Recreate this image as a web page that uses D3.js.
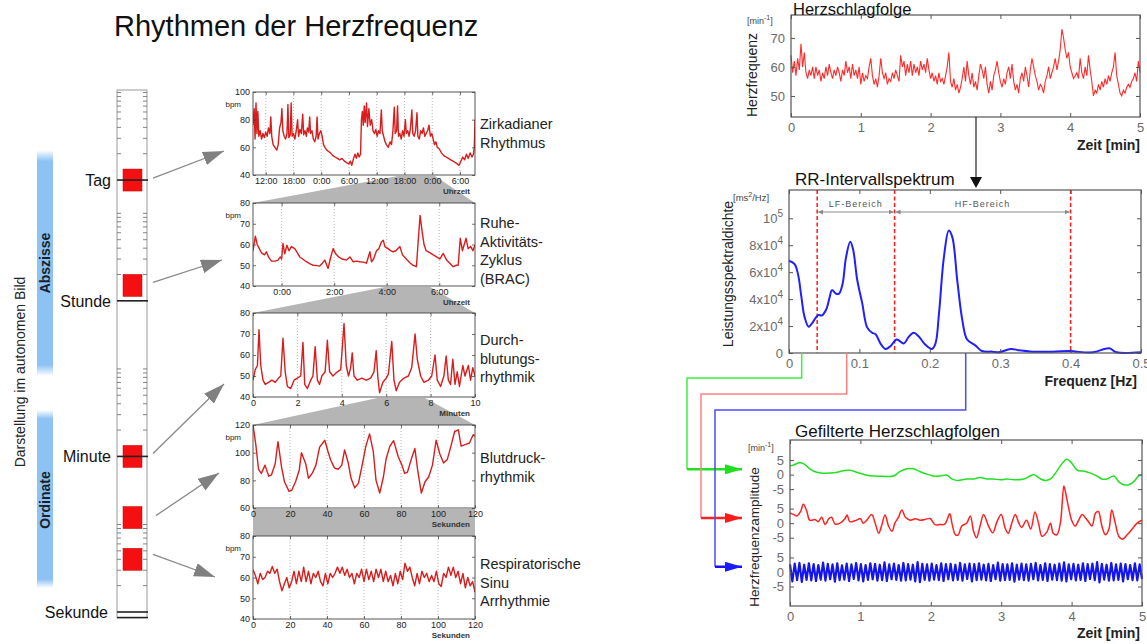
<!DOCTYPE html>
<html>
<head>
<meta charset="utf-8">
<script src="https://cdn.jsdelivr.net/npm/d3@7"></script>
<style>
  body { margin: 0; background: #fff; }
  svg text { font-family: "Liberation Sans", Arial, Helvetica, sans-serif; }
</style>
</head>
<body>
<svg id="chart" width="1147" height="644"></svg>
<script>
// ---------- data ----------
// log time bar on the left
const unitNames = ["Sekunde", "Minute", "Stunde", "Tag"];
const unitSeconds = [1, 60, 3600, 86400];
const rhythmPeriods = [86400, 5400, 60, 12, 4]; // s, one red square per panel
const sideLabels = ["Abszisse", "Ordinate"];

// panel 1: circadian rhythm [hour of day (continuous), bpm]
const circadian = [[9.25,76],[9.5,88],[9.7,66],[9.9,92],[10.1,70],[10.3,86],[10.5,68],[10.8,72],[11.1,66],[11.4,70],[11.7,67],[12.0,71],[12.3,68],[12.6,74],[12.9,70],[13.1,82],[13.3,68],[13.6,62],[14.0,60],[14.4,58],[14.7,62],[15.0,74],[15.3,78],[15.5,88],[15.7,72],[16.0,68],[16.3,66],[16.6,70],[16.8,91],[17.0,67],[17.3,69],[17.5,92],[17.7,68],[18.0,70],[18.3,66],[18.6,72],[18.9,80],[19.1,68],[19.4,73],[19.7,70],[20.0,84],[20.2,69],[20.5,72],[20.8,68],[21.0,74],[21.3,71],[21.5,82],[21.7,70],[22.0,72],[22.3,66],[22.6,64],[22.9,68],[23.1,82],[23.3,66],[23.6,70],[23.9,72],[24.2,68],[24.5,62],[24.8,60],[25.2,58],[25.6,57],[26.0,56],[26.5,54],[27.0,53],[27.5,52],[28.0,51],[28.5,52],[29.0,50],[29.5,49],[30.0,48],[30.3,50],[30.6,47],[31.0,52],[31.3,55],[31.6,52],[31.9,56],[32.2,53],[32.5,55],[32.7,80],[32.9,86],[33.1,76],[33.3,90],[33.5,78],[33.8,92],[34.0,75],[34.3,88],[34.6,76],[34.9,80],[35.2,72],[35.5,70],[35.8,73],[36.1,68],[36.4,72],[36.7,70],[37.0,87],[37.2,72],[37.5,68],[37.8,64],[38.1,62],[38.5,60],[38.9,64],[39.2,62],[39.5,72],[39.8,89],[40.0,70],[40.3,72],[40.5,90],[40.7,68],[41.0,70],[41.3,66],[41.6,72],[41.9,68],[42.2,80],[42.4,70],[42.7,72],[43.0,68],[43.3,74],[43.6,87],[43.8,70],[44.1,68],[44.4,72],[44.7,85],[44.9,68],[45.2,66],[45.5,72],[45.8,70],[46.1,74],[46.4,68],[46.7,70],[47.0,72],[47.3,76],[47.6,68],[47.9,70],[48.2,66],[48.5,62],[48.8,64],[49.1,60],[49.5,59],[50.0,56],[50.5,54],[51.0,53],[51.5,52],[52.0,51],[52.5,50],[53.0,49],[53.4,48],[53.8,47],[54.2,50],[54.6,53],[55.0,51],[55.4,55],[55.8,52],[56.2,56],[56.6,53],[56.9,55],[57.1,60],[57.25,80]];

// panel 2: rest-activity cycle [hour, bpm]
const brac = [[-1.09,57],[-1.0,64],[-0.93,60],[-0.85,58],[-0.77,56],[-0.65,55],[-0.58,56.5],[-0.5,54],[-0.39,52],[-0.25,52],[-0.14,52.5],[-0.05,54],[0.0,53],[0.05,60.5],[0.12,55.5],[0.2,59.7],[0.28,57],[0.37,59],[0.5,58],[0.6,56],[0.69,54],[0.8,53],[0.94,51.7],[1.1,50.5],[1.2,50],[1.35,49.8],[1.45,49.6],[1.55,51],[1.64,52.5],[1.72,50],[1.77,48.5],[1.85,53],[1.96,58],[2.05,55.7],[2.17,54],[2.3,53],[2.47,52.5],[2.6,54],[2.72,51.7],[2.85,52],[2.97,51.7],[3.1,51.5],[3.23,51],[3.3,54],[3.36,56.5],[3.42,51.7],[3.5,53],[3.61,57],[3.7,58],[3.8,61.3],[3.87,62],[3.93,59],[4.05,58],[4.15,57],[4.24,56.5],[4.35,57],[4.5,59],[4.6,55],[4.78,52.5],[4.9,51],[5.0,50],[5.13,49.3],[5.2,62],[5.27,74],[5.35,66],[5.42,60],[5.5,57],[5.65,56],[5.77,55],[5.9,54],[6.02,53],[6.15,55.7],[6.28,52.5],[6.4,51],[6.53,49.3],[6.65,50],[6.72,50],[6.8,63],[6.88,57],[6.95,60],[7.02,63],[7.1,58],[7.2,59],[7.28,57],[7.36,59.7]];

// panel 3: perfusion rhythm [minute, bpm]
const perfusion = [[0,48],[0.1,53],[0.2,55],[0.27,72],[0.35,55],[0.45,48],[0.55,46],[0.7,47],[0.85,48],[1.0,47],[1.15,49],[1.25,50],[1.35,68],[1.45,52],[1.55,45],[1.7,44],[1.85,48],[2.0,49],[2.15,50],[2.25,66],[2.33,46],[2.45,44],[2.6,48],[2.7,50],[2.8,64],[2.9,48],[3.0,46],[3.1,50],[3.25,52],[3.35,67],[3.45,52],[3.6,50],[3.8,52],[3.95,53],[4.1,75],[4.2,55],[4.3,50],[4.4,54],[4.47,61],[4.55,50],[4.7,48],[4.9,49],[5.1,48],[5.3,49],[5.45,52],[5.55,62],[5.62,50],[5.7,42],[5.85,47],[6.0,49],[6.1,51],[6.25,66.5],[6.35,48],[6.45,43],[6.6,47],[6.8,49],[7.0,50],[7.15,54],[7.3,70],[7.4,58],[7.55,50],[7.7,47],[7.9,48],[8.05,50],[8.2,60],[8.3,48],[8.45,45],[8.6,50],[8.7,59.5],[8.8,48],[8.9,46],[9.0,58],[9.1,46],[9.2,52],[9.3,45],[9.45,55],[9.55,50],[9.7,55],[9.8,48],[9.9,54],[10,50]];

// panel 4: blood pressure rhythm [second, bpm]
const bloodPressure = [[0,120],[1.5,106],[3,88],[4.5,85],[6.5,91],[8.5,83],[10,84],[12,92],[13.5,108],[15.5,89],[17,79],[19.5,72],[21,73],[23,79],[25,87.5],[26.2,100],[28.5,92],[30,81.5],[32,85],[34,91],[36,104],[38.8,109],[40.5,101],[42,94.7],[44,89],[46,88],[48,91],[49.5,102],[51.5,92.5],[53,81.5],[55,74.5],[57,78],[59,91],[61,104.7],[63,113.6],[65,101],[66.5,80],[68.5,70.8],[70.5,82.6],[72,95.8],[74,104.7],[76,108.7],[78.5,97],[80.5,91],[82,85],[83.5,86],[85.5,95],[87.5,103],[89,87.5],[91,70.8],[93,79],[95,82.6],[97,91],[99,109],[101,99],[103,92.5],[105,95],[107,104.7],[109,115.3],[111,116.5],[112.5,104.7],[115,106],[117,107],[119,113],[120,112]];

// panel 5: respiratory sinus arrhythmia, bpm evenly sampled over 0..120 s
const rsa = [63.7,61,57,62,59,60,63,62,65.3,62,64,58,53.6,57,60,55,58,63,57,63,58,65,58,63,57,62,60,63,58,56,62,57,62,60,62,65,62,65,61,64,60,62,57,62,60,64,58,64,59,63,58,64,60,64,58,63,58,61,56,62,57,63,59,66.9,63,65,60,56,62,57,63,60,62,58,61,58,63,57,55.7,62,60,65,61,65,60,63,57,62,55,60,56,58,53];

// right top: heart rate, evenly sampled over 0..5 min
const heartRate = [64,58,62,57,63,59,68,60,65,58,56,59,57,60,56,60,57,59,55,58,56,60,57,61,58,56,59,57,60,58,55,59,57,62,58,60,56,61,57,59,56,60,54,58,55,57,56,60,63,57,54,56,53,57,63,58,56,58,54,56,55,58,56,59,57,55,64,60,62,57,61,58,62,57,61,58,60,57,62,59,61,58,63,59,56,58,55,57,54,58,55,56,54,57,60,65,55,53,56,52,54,51,53,56,60,55,62,57,54,58,53,55,52,57,61,59,56,60,54,51,55,52,57,59,62,58,55,53,56,54,58,60,56,61,55,52,54,51,56,58,55,60,57,53,59,63,60,57,55,52,54,53,51,55,57,60,56,58,60,63,59,62,66,73,70,66,63,65,60,58,56,57,58,56,63,58,56,60,57,64,59,55,50,52,51,54,52,55,53,56,54,57,55,58,60,65,57,54,51,50,52,51,53,54,53,55,56,58,55,62,58];

// RR interval spectrum [Hz, ms^2/Hz]
const spectrum = [[0,68500],[0.008,66000],[0.013,58000],[0.0175,42000],[0.022,27000],[0.028,19500],[0.034,23000],[0.041,28000],[0.047,28000],[0.053,32500],[0.058,42000],[0.061,46700],[0.067,44000],[0.071,44000],[0.076,51000],[0.081,71000],[0.087,82500],[0.091,77000],[0.097,54000],[0.104,37000],[0.111,19000],[0.118,15000],[0.123,14000],[0.130,7000],[0.137,3000],[0.144,5000],[0.153,10000],[0.163,7000],[0.170,12000],[0.177,15000],[0.184,12500],[0.193,6500],[0.203,3000],[0.208,7000],[0.213,29000],[0.220,71000],[0.227,91000],[0.232,86000],[0.239,54000],[0.246,25000],[0.253,10000],[0.265,5500],[0.274,1500],[0.289,1000],[0.298,500],[0.315,3000],[0.327,2000],[0.346,1000],[0.375,1000],[0.4,1500],[0.408,1000],[0.432,500],[0.455,3500],[0.465,500],[0.5,500]];
const bandEdges = [0.04, 0.15, 0.4];
const bandNames = ["LF-Bereich", "HF-Bereich"];
const tapFreqs = [0.018, 0.082, 0.251]; // where the green / red / blue lines leave the spectrum

// filtered heart rate series [min, amplitude]
const filteredGreen = [[0,3],[0.07,3.5],[0.14,4.2],[0.21,3.5],[0.28,2],[0.38,0.8],[0.47,0.5],[0.62,0.6],[0.76,1.3],[0.85,1.5],[0.95,0.8],[1.09,-0.2],[1.19,-0.5],[1.33,-0.6],[1.47,-0.5],[1.56,1],[1.66,2],[1.75,2],[1.85,1],[1.97,0],[2.04,-0.5],[2.13,-0.5],[2.23,-0.2],[2.3,-1.5],[2.37,-2],[2.51,-1.5],[2.61,-1.5],[2.7,-1],[2.8,-1.5],[2.89,-1.5],[2.99,-1.8],[3.08,-1.5],[3.18,-1.8],[3.32,-1.5],[3.41,-0.5],[3.46,0],[3.56,-1.5],[3.63,-2],[3.7,-1.5],[3.77,0.5],[3.84,3],[3.93,5.3],[4.0,4],[4.08,1.5],[4.17,1.2],[4.27,0.5],[4.36,-0.5],[4.43,-1.5],[4.5,-1.5],[4.6,-0.5],[4.67,-2.5],[4.74,-3.5],[4.81,-3.5],[4.88,-2.5],[4.95,-0.5],[5,0]];
const filteredRed = [[0,3.5],[0.05,3],[0.1,2.5],[0.15,4],[0.19,6.5],[0.24,4],[0.28,1],[0.36,1.2],[0.4,0.5],[0.45,2],[0.5,-0.5],[0.55,1.5],[0.59,2],[0.64,-0.3],[0.71,0],[0.78,1.5],[0.81,2.8],[0.85,0.5],[0.92,0.8],[1.0,1.5],[1.04,0],[1.09,1],[1.16,3],[1.21,0],[1.26,-3.5],[1.3,-1],[1.35,2.8],[1.4,-1],[1.45,-2.8],[1.49,0],[1.54,2],[1.59,4.5],[1.64,2],[1.71,1],[1.78,1.5],[1.85,1],[1.92,1.3],[1.99,1.6],[2.06,-0.5],[2.13,-0.5],[2.2,-0.3],[2.27,3.2],[2.3,0],[2.35,-4],[2.39,-4],[2.44,-1],[2.51,0],[2.56,2.5],[2.61,-3],[2.65,-5],[2.7,-1],[2.75,3],[2.82,-1],[2.88,-3.3],[2.94,0.5],[3.0,3],[3.06,-2],[3.1,-3.5],[3.15,0],[3.2,3],[3.25,0],[3.29,-1.5],[3.36,1],[3.42,-2],[3.48,3.8],[3.53,0],[3.58,-4.5],[3.65,-3],[3.7,0],[3.74,-3.5],[3.79,-4],[3.84,0],[3.89,12.8],[3.91,11],[3.96,5],[4.0,1],[4.05,-1],[4.1,1],[4.15,3],[4.19,2],[4.24,0.5],[4.29,-1],[4.34,3.5],[4.38,4],[4.43,-1],[4.48,-4],[4.53,-2],[4.57,4.5],[4.62,0],[4.67,-4.5],[4.72,-5.5],[4.79,-4],[4.86,-2],[4.93,0],[5.0,1]];
// HF band: peaks and troughs, evenly spaced over 0..5 min
const filteredBlue = [2.6,-3.2,2.9,-2.8,3.1,-3.4,2.5,-2.7,3.0,-2.9,2.7,-3.1,2.4,-2.6,3.2,-3.0,2.8,-2.5,2.6,-3.3,3.0,-2.8,2.3,-2.6,2.9,-3.1,2.6,-2.4,3.1,-2.9,2.7,-3.2,2.4,-2.7,3.0,-2.5,2.8,-3.0,2.5,-2.8,3.3,-3.1,2.6,-2.5,2.9,-2.7,2.4,-3.0,3.1,-2.9,2.7,-2.6,2.5,-3.2,3.4,-3.5,2.8,-2.7,2.6,-3.0,2.9,-2.6,2.4,-2.8,3.0,-3.1,2.7,-2.5,2.8,-2.9,2.5,-2.7,3.1,-3.0,2.6,-2.4,2.9,-3.2,2.7,-2.8,3.0,-2.6,2.5,-2.9,2.8,-3.1,2.4,-2.5,3.2,-3.0,2.7,-2.8,2.6,-2.7,3.0,-3.3,2.5,-2.6,2.9,-2.8,2.6,-3.0,2.8,-2.5,3.1,-2.9,2.4,-2.7,3.0,-3.1,2.7,-2.6,2.5,-2.8,2.9,-3.0,3.3,-3.2,2.6,-2.5,2.8,-2.9,2.5,-2.7,3.0,-3.1,2.7,-2.4,2.9,-2.8,3.4,-3.6,2.8,-2.6,2.5,-3.0,3.1,-2.9,2.6,-2.7,2.9,-3.2,2.7,-2.5,2.4,-2.8,3.0,-2.9,2.6,-2.4];
const filterOffsets = [33.5, 16.8, 0]; // green, red, blue stacked in one axis

// ---------- drawing ----------
const svg = d3.select("#chart");
const defs = svg.append("defs");

function addMarker(id, color, len, half, orient) {
  defs.append("marker")
    .attr("id", id)
    .attr("viewBox", `0 ${-half} ${len} ${2 * half}`)
    .attr("refX", len).attr("refY", 0)
    .attr("markerUnits", "userSpaceOnUse")
    .attr("markerWidth", len).attr("markerHeight", 2 * half)
    .attr("orient", orient || "auto")
    .append("path")
    .attr("d", `M0,${-half}L${len},0L0,${half}Z`)
    .attr("fill", color);
}
addMarker("grayHead", "#808080", 21, 7);
addMarker("greenHead", "#1fe01f", 17, 5);
addMarker("redHead", "#ff1a1a", 17, 5);
addMarker("blueHead", "#1a1aff", 17, 5);
addMarker("rangeHead", "#8a8a8a", 5, 2.5, "auto-start-reverse");

const grad = defs.append("linearGradient").attr("id", "blueFade")
  .attr("x1", 0).attr("y1", 0).attr("x2", 0).attr("y2", 1);
[[0, 0], [0.05, 1], [0.95, 1], [1, 0]].forEach(([o, a]) =>
  grad.append("stop").attr("offset", o).attr("stop-color", "#8cc2f4").attr("stop-opacity", a));

// title
svg.append("text").attr("x", 114).attr("y", 36)
  .attr("font-size", 29).attr("fill", "#111")
  .text("Rhythmen der Herzfrequenz");

// ----- log time bar -----
const tY = d3.scaleLog().domain([0.854, 924000]).range([618, 90]);
const bar = svg.append("g");
bar.append("rect").attr("x", 117).attr("y", 90).attr("width", 30).attr("height", 528)
  .attr("fill", "#fff").attr("stroke", "#999");

const tickSecs = unitSeconds.flatMap(u => d3.range(2, 11).map(k => u * k)).filter(s => tY(s) > 91);
bar.selectAll(".tl").data(tickSecs).join("line")
  .attr("x1", 117).attr("x2", 121).attr("y1", d => tY(d)).attr("y2", d => tY(d))
  .attr("stroke", "#666").attr("stroke-width", 0.8);
bar.selectAll(".tr").data(tickSecs).join("line")
  .attr("x1", 143).attr("x2", 147).attr("y1", d => tY(d)).attr("y2", d => tY(d))
  .attr("stroke", "#666").attr("stroke-width", 0.8);

bar.selectAll(".sq").data(rhythmPeriods).join("rect")
  .attr("x", 123).attr("width", 19)
  .attr("y", d => tY(d) - 11).attr("height", 22)
  .attr("fill", "#f41010").attr("stroke", "#c80000").attr("stroke-width", 0.5);

bar.selectAll(".ul").data(unitSeconds).join("line")
  .attr("x1", 117).attr("x2", 148).attr("y1", d => tY(d)).attr("y2", d => tY(d))
  .attr("stroke", "#222").attr("stroke-width", 1.6);
bar.append("line").attr("x1", 117).attr("x2", 148)
  .attr("y1", tY(1) + 5.5).attr("y2", tY(1) + 5.5)
  .attr("stroke", "#222").attr("stroke-width", 1.4);

bar.selectAll(".un").data(unitNames).join("text")
  .attr("x", (d, i) => (i === 0 ? 108 : 111))
  .attr("y", (d, i) => tY(unitSeconds[i]) + 6)
  .attr("text-anchor", "end").attr("font-size", 16).attr("fill", "#111")
  .text(d => d);

// blue side bars
const sideBars = [[150, 376], [410, 588]];
sideBars.forEach(([y0, y1], i) => {
  svg.append("rect").attr("x", 37).attr("y", y0).attr("width", 16).attr("height", y1 - y0)
    .attr("fill", "url(#blueFade)");
  svg.append("text")
    .attr("transform", `translate(50,${i === 0 ? 263 : 500}) rotate(-90)`)
    .attr("text-anchor", "middle").attr("font-size", 14).attr("font-weight", "bold")
    .attr("fill", "#1b1f2a").text(sideLabels[i]);
});
svg.append("text").attr("transform", "translate(25,372) rotate(-90)")
  .attr("text-anchor", "middle").attr("font-size", 14).attr("fill", "#222")
  .text("Darstellung im autonomen Bild");

// gray arrows from squares to panels
const arrowTips = [[224, 151], [222, 260], [224, 384], [219, 473], [215, 577]];
const arrowStartDy = [-2, -3, -3, -2, -5];
svg.selectAll(".garrow").data(rhythmPeriods).join("line")
  .attr("x1", (d, i) => (i === 3 ? 156 : 153))
  .attr("y1", (d, i) => tY(d) + arrowStartDy[i])
  .attr("x2", (d, i) => arrowTips[i][0]).attr("y2", (d, i) => arrowTips[i][1])
  .attr("stroke", "#888").attr("stroke-width", 1.3)
  .attr("marker-end", "url(#grayHead)");

// ----- five small panels -----
const PX0 = 253, PX1 = 475;
const hourFmt = h => ((h % 24) + 24) % 24 + ":00";
const panels = [
  { data: circadian, top: 92, bottom: 175, yDomain: [40, 100], yTicks: [40, 60, 80, 100],
    xDomain: [9.25, 57.25], xTicks: [12, 18, 24, 30, 36, 42, 48, 54], fmt: hourFmt, unit: "Uhrzeit",
    bpm: true, label: ["Zirkadianer", "Rhythmus"], labelY: 129, zoom: [40.6, 48.6] },
  { data: brac, top: 203, bottom: 286, yDomain: [40, 80], yTicks: [40, 50, 60, 70, 80],
    xDomain: [-1.09, 7.36], xTicks: [0, 2, 4, 6], fmt: hourFmt, unit: "Uhrzeit",
    bpm: true, label: ["Ruhe-", "Aktivitäts-", "Zyklus", "(BRAC)"], labelY: 228, zoom: [3.93, 5.65] },
  { data: perfusion, top: 313, bottom: 397, yDomain: [40, 80], yTicks: [40, 50, 60, 70, 80],
    xDomain: [0, 10], xTicks: [0, 2, 4, 6, 8, 10], fmt: d => d, unit: "Minuten",
    bpm: false, label: ["Durch-", "blutungs-", "rhythmik"], labelY: 345, zoom: [5.6, 7.75] },
  { data: bloodPressure, top: 425, bottom: 508, yDomain: [60, 120], yTicks: [60, 80, 100, 120],
    xDomain: [0, 120], xTicks: [0, 20, 40, 60, 80, 100, 120], fmt: d => d, unit: "Sekunden",
    bpm: true, label: ["Blutdruck-", "rhythmik"], labelY: 463, zoom: [0, 120] },
  { data: rsa.map((v, i) => [i * 120 / (rsa.length - 1), v]), top: 536, bottom: 619,
    yDomain: [40, 80], yTicks: [40, 50, 60, 70, 80],
    xDomain: [0, 120], xTicks: [0, 20, 40, 60, 80, 100, 120], fmt: d => d, unit: "Sekunden",
    bpm: true, label: ["Respiratorische", "Sinu", "Arrhythmie"], labelY: 569 }
];
panels.forEach(p => {
  p.x = d3.scaleLinear().domain(p.xDomain).range([PX0, PX1]);
  p.y = d3.scaleLinear().domain(p.yDomain).range([p.bottom, p.top]);
});

// gray zoom funnels (behind everything)
panels.forEach((p, i) => {
  if (!p.zoom) return;
  const n = panels[i + 1];
  svg.append("polygon")
    .attr("points", [[p.x(p.zoom[0]), p.bottom + 1], [p.x(p.zoom[1]), p.bottom + 1],
                     [PX1, n.top], [PX0, n.top]].map(q => q.join(",")).join(" "))
    .attr("fill", "#b5b5b5");
});

panels.forEach((p, i) => {
  const g = svg.append("g");
  g.append("rect").attr("x", PX0).attr("y", p.top).attr("width", PX1 - PX0)
    .attr("height", p.bottom - p.top).attr("fill", "#fff");
  // dotted vertical grid
  g.selectAll(".grid").data(p.xTicks.filter(t => t > p.xDomain[0] && t < p.xDomain[1])).join("line")
    .attr("x1", d => p.x(d)).attr("x2", d => p.x(d)).attr("y1", p.top).attr("y2", p.bottom)
    .attr("stroke", "#9a9a9a").attr("stroke-width", 0.7).attr("stroke-dasharray", "1,2");
  defs.append("clipPath").attr("id", "clipL" + i).append("rect")
    .attr("x", PX0).attr("y", p.top).attr("width", PX1 - PX0).attr("height", p.bottom - p.top);
  g.append("path").datum(p.data)
    .attr("clip-path", `url(#clipL${i})`)
    .attr("fill", "none").attr("stroke", "#d91c1c").attr("stroke-width", 1.4)
    .attr("stroke-linejoin", "round")
    .attr("d", d3.line().x(d => p.x(d[0])).y(d => p.y(d[1])));

  const axes = [
    [d3.axisBottom(p.x).tickValues(p.xTicks).tickFormat(p.fmt), `translate(0,${p.bottom})`],
    [d3.axisTop(p.x).tickValues(p.xTicks).tickFormat(""), `translate(0,${p.top})`],
    [d3.axisLeft(p.y).tickValues(p.yTicks), `translate(${PX0},0)`],
    [d3.axisRight(p.y).tickValues(p.yTicks).tickFormat(""), `translate(${PX1},0)`]
  ];
  axes.forEach(([a, tr]) => g.append("g").attr("transform", tr)
    .call(a.tickSizeInner(-3).tickSizeOuter(0).tickPadding(3)));
  g.selectAll(".domain").remove();
  g.selectAll(".tick text").filter(function () { return this.textContent === ""; }).remove();
  g.selectAll(".tick line").attr("stroke", "#333").attr("stroke-width", 0.7);
  g.selectAll(".tick text").attr("font-size", 9).attr("fill", "#222");
  g.append("rect").attr("x", PX0).attr("y", p.top).attr("width", PX1 - PX0)
    .attr("height", p.bottom - p.top).attr("fill", "none").attr("stroke", "#444").attr("stroke-width", 0.9);

  g.append("text").attr("x", 470).attr("y", p.bottom + 19).attr("text-anchor", "end")
    .attr("font-size", 8).attr("font-weight", "bold").attr("fill", "#333").text(p.unit);
  if (p.bpm) {
    g.append("text").attr("x", 241).attr("y", p.top + 15).attr("text-anchor", "end")
      .attr("font-size", 8).attr("fill", "#222").text("bpm");
  }
  g.selectAll(".lab").data(p.label).join("text")
    .attr("x", 480).attr("y", (d, k) => p.labelY + k * 18.5)
    .attr("font-size", 14.5).attr("fill", "#222").text(d => d);
});

// ----- right column helper -----
function boxAxes(g, x, y, xTicks, yTicks, o) {
  const [x0, x1] = x.range(), [y0, y1] = y.range();
  const sides = [
    [d3.axisBottom(x).tickValues(xTicks).tickFormat(o.xFmt), `translate(0,${y0})`],
    [d3.axisTop(x).tickValues(xTicks).tickFormat(""), `translate(0,${y1})`],
    [d3.axisLeft(y).tickValues(yTicks).tickFormat(o.yFmt), `translate(${x0},0)`],
    [d3.axisRight(y).tickValues(yTicks).tickFormat(""), `translate(${x1},0)`]
  ];
  sides.forEach(([a, tr]) => g.append("g").attr("transform", tr)
    .call(a.tickSizeInner(-4).tickSizeOuter(0).tickPadding(6)));
  g.selectAll(".domain").remove();
  g.selectAll(".tick text").filter(function () { return this.textContent === ""; }).remove();
  g.selectAll(".tick line").attr("stroke", "#555");
  g.selectAll(".tick text").attr("font-size", 13).attr("fill", "#6a6a6a");
  g.append("rect").attr("x", x0).attr("y", y1).attr("width", x1 - x0).attr("height", y0 - y1)
    .attr("fill", "none").attr("stroke", "#555").attr("stroke-width", 1.2);
}
function minUnit(g, x, y) {
  const t = g.append("text").attr("x", x).attr("y", y).attr("font-size", 9).attr("fill", "#444");
  t.append("tspan").text("[min");
  t.append("tspan").attr("dy", -4).attr("font-size", 7).text("-1");
  t.append("tspan").attr("dy", 4).text("]");
}

// ----- right top: Herzschlagfolge -----
const gTop = svg.append("g");
const xT = d3.scaleLinear().domain([0, 5]).range([791, 1140]);
const yT = d3.scaleLinear().domain([42.75, 77.9]).range([117, 15]);
gTop.append("path").datum(heartRate)
  .attr("fill", "none").attr("stroke", "#ff2b2b").attr("stroke-width", 1.1)
  .attr("d", d3.line().x((d, i) => xT(i * 5 / (heartRate.length - 1))).y(d => yT(d)));
boxAxes(gTop, xT, yT, [0, 1, 2, 3, 4, 5], [50, 60, 70], { xFmt: d => d, yFmt: d => d });
gTop.append("text").attr("x", 793).attr("y", 14.5).attr("font-size", 16.5).attr("fill", "#111")
  .text("Herzschlagfolge");
minUnit(gTop, 747, 24);
gTop.append("text").attr("transform", "translate(757,75) rotate(-90)").attr("text-anchor", "middle")
  .attr("font-size", 14).attr("fill", "#222").text("Herzfrequenz");
gTop.append("text").attr("x", 1140).attr("y", 150).attr("text-anchor", "end")
  .attr("font-size", 14).attr("font-weight", "bold").attr("fill", "#222").text("Zeit [min]");

// arrow down to the spectrum
svg.append("line").attr("x1", 976).attr("x2", 976).attr("y1", 117).attr("y2", 178)
  .attr("stroke", "#222").attr("stroke-width", 1.2);
svg.append("path").attr("d", "M970,177L982,177L976,188Z").attr("fill", "#111");

// ----- spectrum -----
const gSp = svg.append("g");
const xS = d3.scaleLinear().domain([0, 0.5]).range([789, 1141]);
const yS = d3.scaleLinear().domain([0, 121000]).range([353, 190]);
gSp.selectAll(".band").data(bandEdges).join("line")
  .attr("x1", d => xS(d)).attr("x2", d => xS(d)).attr("y1", 190).attr("y2", 353)
  .attr("stroke", "#ff1a1a").attr("stroke-width", 1.5).attr("stroke-dasharray", "4,2.5");
bandNames.forEach((name, i) => {
  const a = xS(bandEdges[i]) + 1, b = xS(bandEdges[i + 1]) - 1;
  gSp.append("line").attr("x1", a).attr("x2", b).attr("y1", 212).attr("y2", 212)
    .attr("stroke", "#8a8a8a").attr("stroke-width", 1)
    .attr("marker-start", "url(#rangeHead)").attr("marker-end", "url(#rangeHead)");
  gSp.append("text").attr("x", (a + b) / 2).attr("y", 207).attr("text-anchor", "middle")
    .attr("font-size", 9).attr("letter-spacing", 1).attr("fill", "#555").text(name);
});
gSp.append("path").datum(spectrum)
  .attr("fill", "none").attr("stroke", "#1f1fff").attr("stroke-width", 2)
  .attr("d", d3.line().curve(d3.curveCatmullRom.alpha(0.5)).x(d => xS(d[0])).y(d => yS(d[1])));
boxAxes(gSp, xS, yS, [0, 0.1, 0.2, 0.3, 0.4, 0.5], [0, 20000, 40000, 60000, 80000, 100000],
  { xFmt: d => (d === 0 ? "0" : d3.format(".1f")(d)), yFmt: d => d });
gSp.selectAll(".tick text").filter(d => d >= 20000).each(function (d) {
  const t = d3.select(this).text(null);
  t.append("tspan").text(d === 100000 ? "10" : (d / 10000) + "x10");
  t.append("tspan").attr("dy", -6).attr("font-size", 10).text(d === 100000 ? "5" : "4");
});
gSp.append("text").attr("x", 795).attr("y", 185).attr("font-size", 17).attr("fill", "#111")
  .text("RR-Intervallspektrum");
const msu = gSp.append("text").attr("x", 733).attr("y", 201).attr("font-size", 9.5).attr("fill", "#444");
msu.append("tspan").text("[ms");
msu.append("tspan").attr("dy", -4).attr("font-size", 7).text("2");
msu.append("tspan").attr("dy", 4).text("/Hz]");
gSp.append("text").attr("transform", "translate(733,274) rotate(-90)").attr("text-anchor", "middle")
  .attr("font-size", 14).attr("fill", "#222").text("Leistungsspektraldichte");
gSp.append("text").attr("x", 1137).attr("y", 386).attr("text-anchor", "end")
  .attr("font-size", 14).attr("font-weight", "bold").attr("fill", "#222").text("Frequenz [Hz]");

// ----- filtered series -----
const gF = svg.append("g");
const xF = d3.scaleLinear().domain([0, 5]).range([790, 1142]);
const yF = d3.scaleLinear().domain([-11.7, 45.4]).range([606, 440]);
const filtColors = ["#22e022", "#ff2020", "#1414f0"];
const filtWidths = [1.5, 1.5, 2.2];
const filtSeries = [filteredGreen, filteredRed,
  filteredBlue.map((v, i) => [i * 5 / (filteredBlue.length - 1), v])];
filtSeries.forEach((s, k) => {
  gF.append("path").datum(s)
    .attr("fill", "none").attr("stroke", filtColors[k]).attr("stroke-width", filtWidths[k])
    .attr("stroke-linejoin", "round")
    .attr("d", d3.line().curve(k < 2 ? d3.curveCatmullRom.alpha(0.5) : d3.curveLinear)
      .x(d => xF(d[0])).y(d => yF(d[1] + filterOffsets[k])));
});
const fTicks = filterOffsets.flatMap(o => [o - 5, o, o + 5]);
const fLabels = filterOffsets.flatMap(() => ["-5", "0", "5"]);
boxAxes(gF, xF, yF, [0, 1, 2, 3, 4, 5], fTicks, { xFmt: d => d, yFmt: (d, i) => fLabels[i] });
gF.append("text").attr("x", 795).attr("y", 437).attr("font-size", 17).attr("fill", "#111")
  .text("Gefilterte Herzschlagfolgen");
minUnit(gF, 748, 451);
gF.append("text").attr("transform", "translate(759,537) rotate(-90)").attr("text-anchor", "middle")
  .attr("font-size", 13.5).attr("fill", "#222").text("Herzfrequenzamplitude");
gF.append("text").attr("x", 1140).attr("y", 638).attr("text-anchor", "end")
  .attr("font-size", 14).attr("font-weight", "bold").attr("fill", "#222").text("Zeit [min]");

// ----- connectors spectrum -> filtered series -----
const tapY = [378, 394, 410];
const tapX = [687, 701, 715];
const thinColors = ["#3cf03c", "#ff8080", "#4a4aff"];
const heads = ["greenHead", "redHead", "blueHead"];
tapFreqs.forEach((f, k) => {
  const xs = xS(f), yEnd = yF(filterOffsets[k] + 1.8);
  svg.append("path")
    .attr("d", `M${xs},353V${tapY[k]}H${tapX[k]}V${yEnd}`)
    .attr("fill", "none").attr("stroke", thinColors[k]).attr("stroke-width", 1.5);
  svg.append("line").attr("x1", tapX[k]).attr("x2", 742).attr("y1", yEnd).attr("y2", yEnd)
    .attr("stroke", filtColors[k]).attr("stroke-width", 2.5)
    .attr("marker-end", `url(#${heads[k]})`);
});
</script>
</body>
</html>
